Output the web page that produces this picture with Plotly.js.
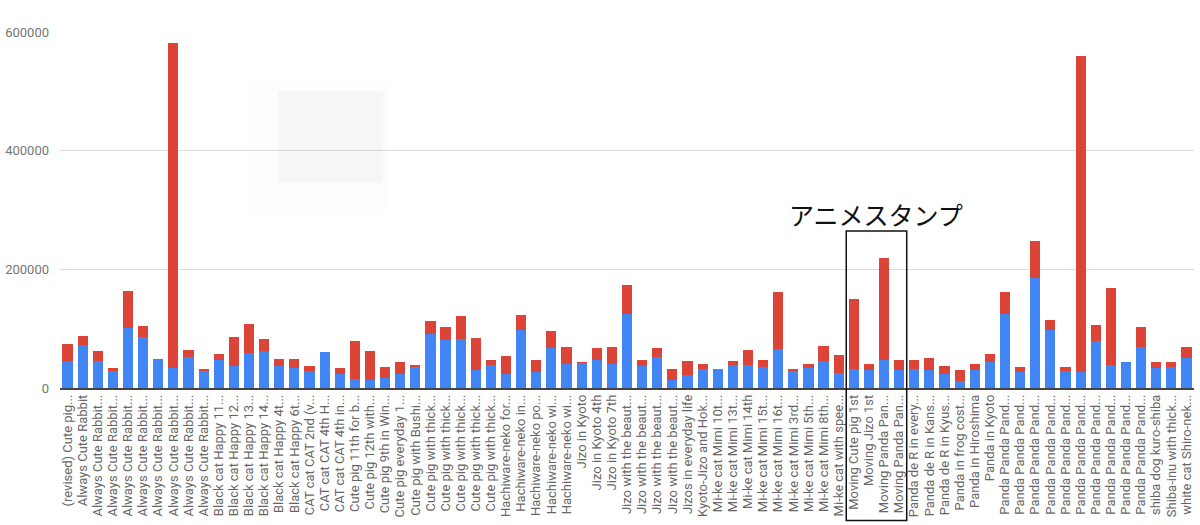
<!DOCTYPE html>
<html>
<head>
<meta charset="utf-8">
<script src="https://cdn.plot.ly/plotly-3.0.1.min.js"></script>
<style>
  html, body { margin: 0; padding: 0; background: #fff; }
  #chart { width: 1200px; height: 525px; }
</style>
</head>
<body>
<div id="chart"></div>
<script>
const labels = [
  "(revised) Cute pig...",
  "Always Cute Rabbit",
  "Always Cute Rabbit...",
  "Always Cute Rabbit...",
  "Always Cute Rabbit...",
  "Always Cute Rabbit...",
  "Always Cute Rabbit...",
  "Always Cute Rabbit...",
  "Always Cute Rabbit...",
  "Always Cute Rabbit...",
  "Black cat Happy 11...",
  "Black cat Happy 12...",
  "Black cat Happy 13...",
  "Black cat Happy 14...",
  "Black cat Happy 4t...",
  "Black cat Happy 6t...",
  "CAT cat CAT 2nd (v...",
  "CAT cat CAT 4th H...",
  "CAT cat CAT 4th in...",
  "Cute pig 11th for b...",
  "Cute pig 12th with...",
  "Cute pig 9th in Win...",
  "Cute pig everyday 1...",
  "Cute pig with Bushi...",
  "Cute pig with thick...",
  "Cute pig with thick...",
  "Cute pig with thick...",
  "Cute pig with thick...",
  "Cute pig with thick...",
  "Hachiware-neko for...",
  "Hachiware-neko in...",
  "Hachiware-neko po...",
  "Hachiware-neko wi...",
  "Hachiware-neko wi...",
  "Jizo in Kyoto",
  "Jizo in Kyoto 4th",
  "Jizo in Kyoto 7th",
  "Jizo with the beaut...",
  "Jizo with the beaut...",
  "Jizo with the beaut...",
  "Jizo with the beaut...",
  "Jizos in everyday life",
  "Kyoto-Jizo and Hok...",
  "Mi-ke cat Mimi 10t...",
  "Mi-ke cat Mimi 13t...",
  "Mi-ke cat Mimi 14th",
  "Mi-ke cat Mimi 15t...",
  "Mi-ke cat Mimi 16t...",
  "Mi-ke cat Mimi 3rd...",
  "Mi-ke cat Mimi 5th...",
  "Mi-ke cat Mimi 8th...",
  "Mi-ke cat with spee...",
  "Moving Cute pig 1st",
  "Moving Jizo 1st",
  "Moving Panda Pan...",
  "Moving Panda Pan...",
  "Panda de R in every...",
  "Panda de R in Kans...",
  "Panda de R in Kyus...",
  "Panda in frog cost...",
  "Panda in Hiroshima",
  "Panda in Kyoto",
  "Panda Panda Pand...",
  "Panda Panda Pand...",
  "Panda Panda Pand...",
  "Panda Panda Pand...",
  "Panda Panda Pand...",
  "Panda Panda Pand...",
  "Panda Panda Pand...",
  "Panda Panda Pand...",
  "Panda Panda Pand...",
  "Panda Panda Pand...",
  "shiba dog kuro-shiba",
  "Shiba-inu with thick...",
  "white cat Shiro-nek..."
];

const blueValues = [
  45000, 72000, 45000, 28600, 101000, 86000, 49000, 34300, 52200, 28600,
  47700, 37600, 59000, 61800, 37600, 34300, 29200, 60700, 24200, 15700,
  14000, 17400, 24200, 34800, 91600, 80900, 82600, 30900, 39300, 24200,
  97700, 27000, 67400, 41000, 41600, 47200, 41000, 125300, 37600, 52200,
  13500, 21300, 32000, 32000, 39300, 39300, 35400, 65700, 28600, 34300,
  45500, 24700, 32000, 30300, 47700, 30300, 32000, 30300, 24200, 11800,
  30900, 43800, 125300, 27000, 184900, 97700, 28600, 27000, 78600, 39300,
  43300, 69100, 34300, 35900, 50600
];

const redValues = [
  29200, 15000, 16900, 5100, 61900, 18000, 0, 547200, 11300, 3400,
  10200, 48300, 49400, 20800, 11300, 14600, 8400, 0, 9500, 64100,
  47800, 18000, 19100, 4500, 21900, 21900, 38200, 52800, 7900, 30300,
  25900, 20200, 29200, 28100, 1700, 19600, 28100, 47700, 9600, 14600,
  18500, 23600, 9000, 0, 5600, 25300, 11800, 95500, 3400, 6700,
  25300, 31500, 118600, 10700, 170800, 16900, 15200, 19700, 13400, 18500,
  10100, 14100, 36500, 8400, 63100, 17400, 6800, 533000, 27600, 129200,
  0, 33100, 9000, 7400, 18500
];

const yTicks = [0, 200000, 400000, 600000];
const annotationText = "アニメスタンプ";

const positions = labels.map((_, i) => i);

const traces = [
  {
    type: "bar",
    x: positions,
    y: blueValues,
    marker: { color: "#4285F4" },
    hoverinfo: "skip"
  },
  {
    type: "bar",
    x: positions,
    y: redValues,
    marker: { color: "#DB4437" },
    hoverinfo: "skip"
  }
];

const layout = {
  width: 1200,
  height: 525,
  margin: { l: 60, r: 6, t: 32, b: 137 },
  barmode: "stack",
  bargap: 0.33,
  showlegend: false,
  paper_bgcolor: "#ffffff",
  plot_bgcolor: "#ffffff",
  font: { family: "Roboto, Arial, sans-serif", size: 13, color: "#666" },
  xaxis: {
    type: "linear",
    range: [-0.5, labels.length - 0.5],
    tickmode: "array",
    tickvals: positions,
    ticktext: labels,
    tickangle: -90,
    tickfont: { family: "Roboto, Arial, sans-serif", size: 13, color: "#666" },
    showgrid: false,
    zeroline: false,
    showline: true,
    linecolor: "#444",
    linewidth: 1.5,
    ticks: "",
    fixedrange: true
  },
  yaxis: {
    range: [0, 600000],
    tickmode: "array",
    tickvals: yTicks,
    ticktext: yTicks.map(v => String(v)),
    tickfont: { family: "Roboto, Arial, sans-serif", size: 13, color: "#757575" },
    showgrid: true,
    gridcolor: "#dcdcdc",
    gridwidth: 1,
    zeroline: false,
    showline: false,
    ticks: "",
    ticklabelstandoff: 10,
    fixedrange: true
  },
  shapes: [
    {
      type: "rect", xref: "paper", yref: "paper",
      x0: 0.166, x1: 0.290, y0: 0.498, y1: 0.862,
      fillcolor: "rgba(0,0,0,0.008)", line: { width: 0 }, layer: "above"
    },
    {
      type: "rect", xref: "paper", yref: "paper",
      x0: 0.192, x1: 0.285, y0: 0.576, y1: 0.834,
      fillcolor: "rgba(0,0,0,0.022)", line: { width: 0 }, layer: "above"
    },
    {
      type: "rect", xref: "x", yref: "paper",
      x0: 51.5, x1: 55.5, y0: -0.372, y1: 0.441,
      fillcolor: "rgba(0,0,0,0)", line: { color: "#111", width: 1.5 }
    }
  ],
  annotations: [
    {
      xref: "x", yref: "paper",
      x: 53.5, y: 0.489,
      xanchor: "center", yanchor: "middle",
      text: annotationText,
      showarrow: false,
      font: { family: "Noto Sans CJK JP", size: 25, color: "#111" }
    }
  ]
};

Plotly.newPlot("chart", traces, layout, { staticPlot: true, displayModeBar: false });
</script>
</body>
</html>
